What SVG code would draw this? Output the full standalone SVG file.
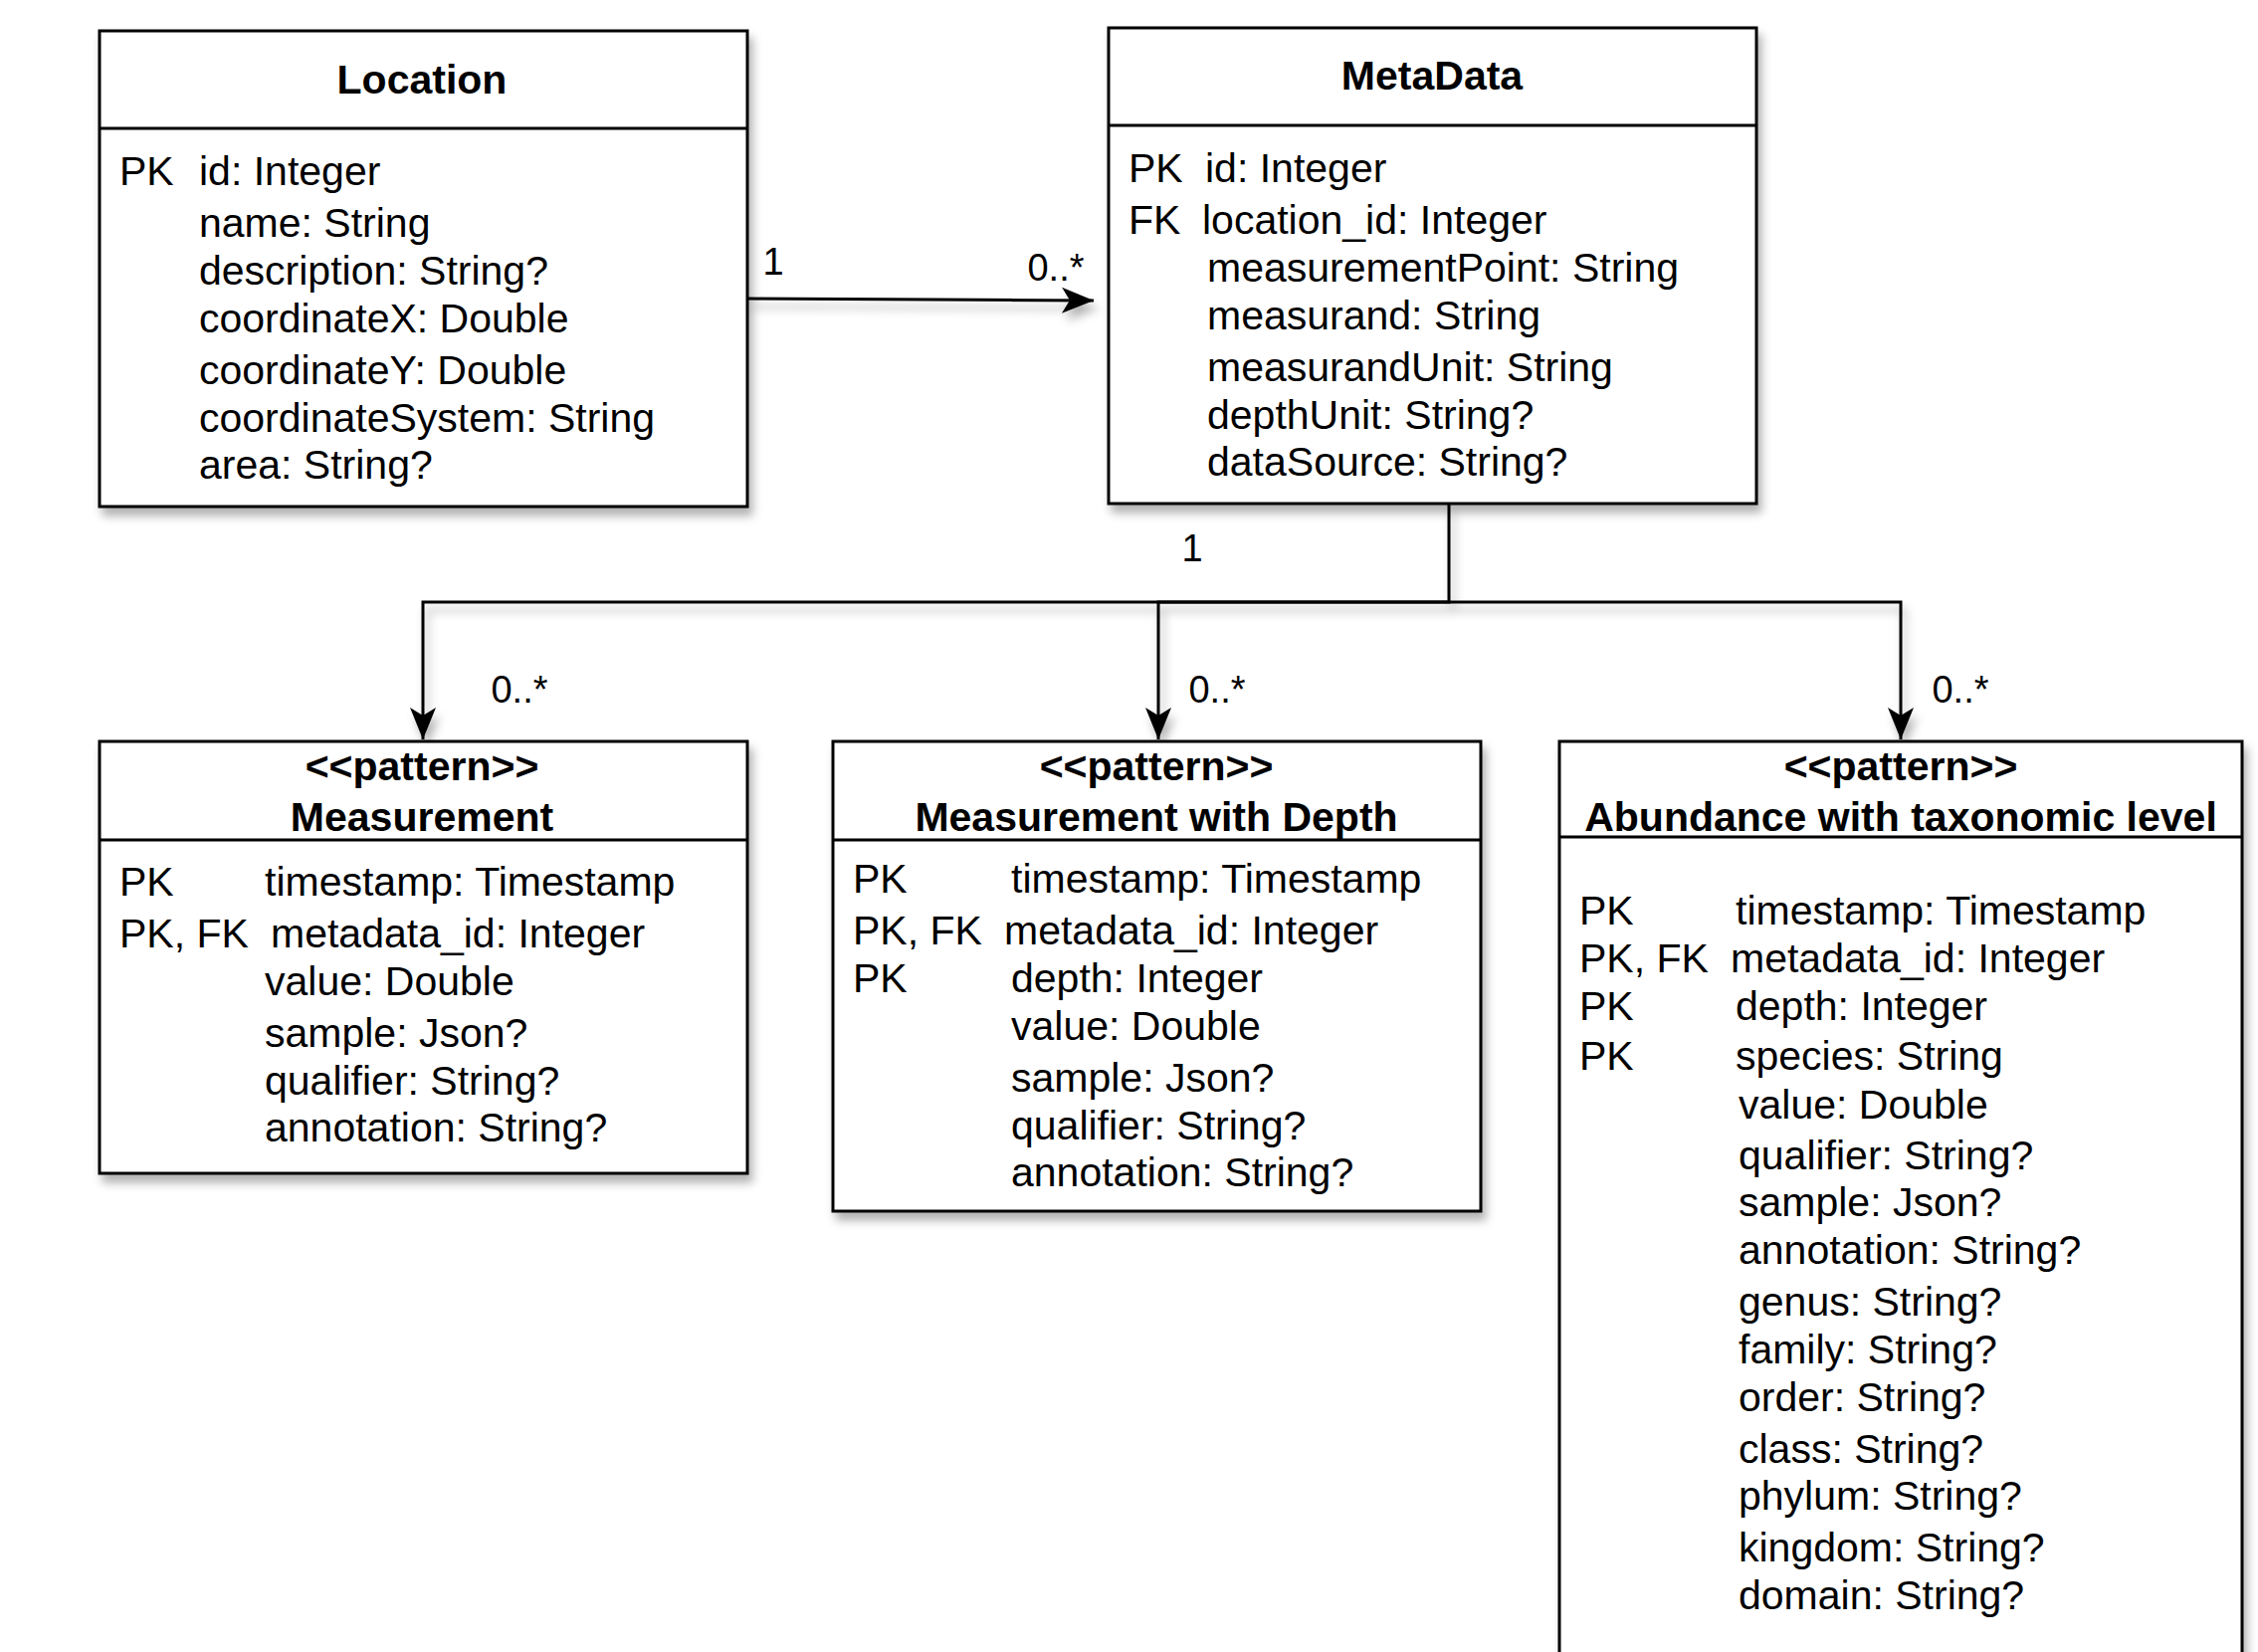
<svg xmlns="http://www.w3.org/2000/svg" width="2269" height="1660" viewBox="0 0 2269 1660">
<style>
.box{fill:#fff;stroke:#000;stroke-width:3}
.div{stroke:#000;stroke-width:3}
.t{font-family:"Liberation Sans",Arial,sans-serif;font-size:41px;fill:#000}
.b{font-family:"Liberation Sans",Arial,sans-serif;font-size:41px;font-weight:bold;fill:#000;text-anchor:middle}
.lbl{font-family:"Liberation Sans",Arial,sans-serif;font-size:38px;fill:#000;text-anchor:middle}
.edge{fill:none;stroke:#000;stroke-width:3}
</style>
<defs>
<filter id="sh" x="-10%" y="-10%" width="130%" height="130%">
<feDropShadow dx="4" dy="8" stdDeviation="5" flood-color="#000" flood-opacity="0.3"/>
</filter>
<marker id="arr" markerUnits="userSpaceOnUse" markerWidth="36" markerHeight="30" refX="34" refY="14" orient="auto">
<path d="M2,1 L34,14 L2,27 L10,14 Z" fill="#000"/>
</marker>
</defs>
<rect width="2269" height="1660" fill="#fff"/>

<g id="connectors" filter="url(#sh)">
<path class="edge" d="M751,300 L1099,302" marker-end="url(#arr)"/>
<path class="edge" d="M1456,507 V605 H425 V743" marker-end="url(#arr)"/>
<path class="edge" d="M1456,605 H1164 V743" marker-end="url(#arr)"/>
<path class="edge" d="M1456,605 H1910 V743" marker-end="url(#arr)"/>
</g>
<g id="edge-labels">
<text class="lbl" x="777" y="276">1</text>
<text class="lbl" x="1061" y="282">0..*</text>
<text class="lbl" x="1198" y="564">1</text>
<text class="lbl" x="522" y="706">0..*</text>
<text class="lbl" x="1223" y="706">0..*</text>
<text class="lbl" x="1970" y="706">0..*</text>
</g>

<g id="location">
<rect class="box" x="100" y="31" width="651" height="478" filter="url(#sh)"/>
<line class="div" x1="100" y1="129" x2="751" y2="129"/>
<text class="b" x="424" y="94">Location</text>
<text class="t" x="120" y="186">PK</text>
<text class="t" x="200" y="186">id: Integer</text>
<text class="t" x="200" y="238">name: String</text>
<text class="t" x="200" y="286">description: String?</text>
<text class="t" x="200" y="334">coordinateX: Double</text>
<text class="t" x="200" y="386">coordinateY: Double</text>
<text class="t" x="200" y="434">coordinateSystem: String</text>
<text class="t" x="200" y="481">area: String?</text>
</g>

<g id="metadata">
<rect class="box" x="1114" y="28" width="651" height="478" filter="url(#sh)"/>
<line class="div" x1="1114" y1="126" x2="1765" y2="126"/>
<text class="b" x="1439" y="90">MetaData</text>
<text class="t" x="1134" y="183">PK</text>
<text class="t" x="1211" y="183">id: Integer</text>
<text class="t" x="1134" y="235">FK</text>
<text class="t" x="1208" y="235">location_id: Integer</text>
<text class="t" x="1213" y="283">measurementPoint: String</text>
<text class="t" x="1213" y="331">measurand: String</text>
<text class="t" x="1213" y="383">measurandUnit: String</text>
<text class="t" x="1213" y="431">depthUnit: String?</text>
<text class="t" x="1213" y="478">dataSource: String?</text>
</g>

<g id="measurement">
<rect class="box" x="100" y="745" width="651" height="434" filter="url(#sh)"/>
<line class="div" x1="100" y1="844" x2="751" y2="844"/>
<text class="b" x="424" y="784">&lt;&lt;pattern&gt;&gt;</text>
<text class="b" x="424" y="835">Measurement</text>
<text class="t" x="120" y="900">PK</text>
<text class="t" x="266" y="900">timestamp: Timestamp</text>
<text class="t" x="120" y="952">PK, FK</text>
<text class="t" x="272" y="952">metadata_id: Integer</text>
<text class="t" x="266" y="1000">value: Double</text>
<text class="t" x="266" y="1052">sample: Json?</text>
<text class="t" x="266" y="1100">qualifier: String?</text>
<text class="t" x="266" y="1147">annotation: String?</text>
</g>

<g id="measurement-depth">
<rect class="box" x="837" y="745" width="651" height="472" filter="url(#sh)"/>
<line class="div" x1="837" y1="844" x2="1488" y2="844"/>
<text class="b" x="1162" y="784">&lt;&lt;pattern&gt;&gt;</text>
<text class="b" x="1162" y="835">Measurement with Depth</text>
<text class="t" x="857" y="897">PK</text>
<text class="t" x="1016" y="897">timestamp: Timestamp</text>
<text class="t" x="857" y="949">PK, FK</text>
<text class="t" x="1009" y="949">metadata_id: Integer</text>
<text class="t" x="857" y="997">PK</text>
<text class="t" x="1016" y="997">depth: Integer</text>
<text class="t" x="1016" y="1045">value: Double</text>
<text class="t" x="1016" y="1097">sample: Json?</text>
<text class="t" x="1016" y="1145">qualifier: String?</text>
<text class="t" x="1016" y="1192">annotation: String?</text>
</g>

<g id="abundance">
<rect class="box" x="1567" y="745" width="686" height="940" filter="url(#sh)"/>
<line class="div" x1="1567" y1="841" x2="2253" y2="841"/>
<text class="b" x="1910" y="784">&lt;&lt;pattern&gt;&gt;</text>
<text class="b" x="1910" y="835">Abundance with taxonomic level</text>
<text class="t" x="1587" y="929">PK</text>
<text class="t" x="1744" y="929">timestamp: Timestamp</text>
<text class="t" x="1587" y="977">PK, FK</text>
<text class="t" x="1739" y="977">metadata_id: Integer</text>
<text class="t" x="1587" y="1025">PK</text>
<text class="t" x="1744" y="1025">depth: Integer</text>
<text class="t" x="1587" y="1075">PK</text>
<text class="t" x="1744" y="1075">species: String</text>
<text class="t" x="1747" y="1124">value: Double</text>
<text class="t" x="1747" y="1175">qualifier: String?</text>
<text class="t" x="1747" y="1222">sample: Json?</text>
<text class="t" x="1747" y="1270">annotation: String?</text>
<text class="t" x="1747" y="1322">genus: String?</text>
<text class="t" x="1747" y="1370">family: String?</text>
<text class="t" x="1747" y="1418">order: String?</text>
<text class="t" x="1747" y="1470">class: String?</text>
<text class="t" x="1747" y="1517">phylum: String?</text>
<text class="t" x="1747" y="1569">kingdom: String?</text>
<text class="t" x="1747" y="1617">domain: String?</text>
</g>
</svg>
